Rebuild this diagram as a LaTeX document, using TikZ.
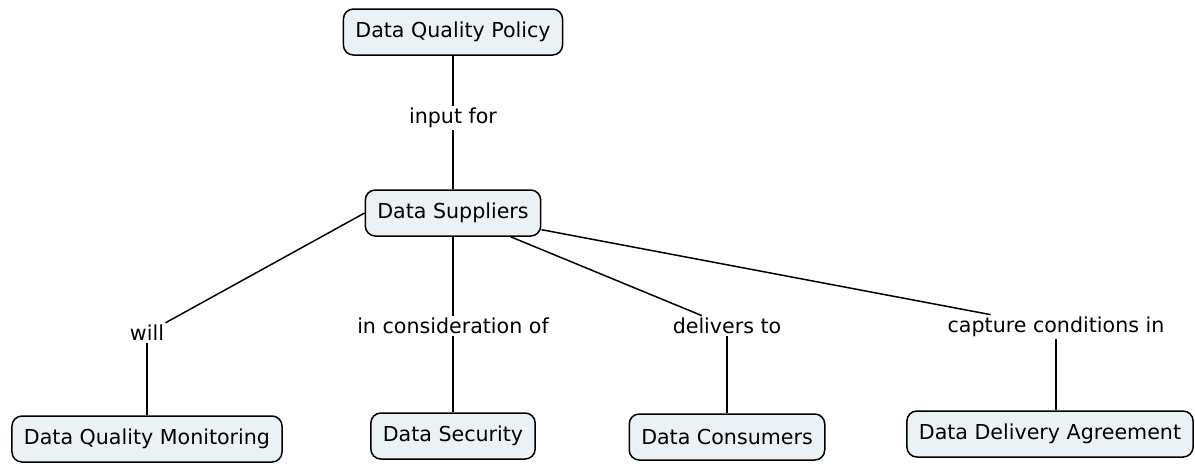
\documentclass[tikz,border=0pt]{standalone}
\usepackage{fontspec}
\setmainfont{DejaVu Sans}
\definecolor{boxfill}{RGB}{235,242,245}
\begin{document}
\begin{tikzpicture}[x=0.5pt,y=-0.5pt,
    concept/.style={draw=black,line width=0.75pt,fill=boxfill,rounded corners=5pt,
        inner xsep=6pt,minimum height=23pt,font=\fontsize{10.3pt}{12pt}\selectfont},
    linkword/.style={inner sep=1pt,font=\fontsize{10.3pt}{12pt}\selectfont},
    link/.style={line width=0.75pt}]
    \useasboundingbox (0,0) rectangle (1195,463);
    % concepts
    \node[concept] (pol) at (453,32) {Data Quality Policy};
    \node[concept] (sup) at (453,213) {Data Suppliers};
    \node[concept] (mon) at (147,439) {Data Quality Monitoring};
    \node[concept] (sec) at (453,436) {Data Security};
    \node[concept] (con) at (727,437) {Data Consumers};
    \node[concept] (agr) at (1050,434) {Data Delivery Agreement};
    % linking words
    \node[linkword] (inp) at (453,118) {input for};
    \node[linkword] (will) at (147,333) {will};
    \node[linkword] (cons) at (453,326) {in consideration of};
    \node[linkword] (del) at (727,326) {delivers to};
    \node[linkword] (cap) at (1056,327) {capture conditions in};
    % links
    \draw[link] (pol) -- (inp);
    \draw[link] (inp) -- (sup);
    \draw[link] (sup.west) -- (will);
    \draw[link] (will) -- (mon);
    \draw[link] (sup) -- (cons);
    \draw[link] (cons) -- (sec);
    \draw[link] (sup) -- (del);
    \draw[link] (del) -- (con);
    \draw[link] (sup) -- (cap);
    \draw[link] (cap.south) -- (cap.south |- agr.north);
\end{tikzpicture}
\end{document}
